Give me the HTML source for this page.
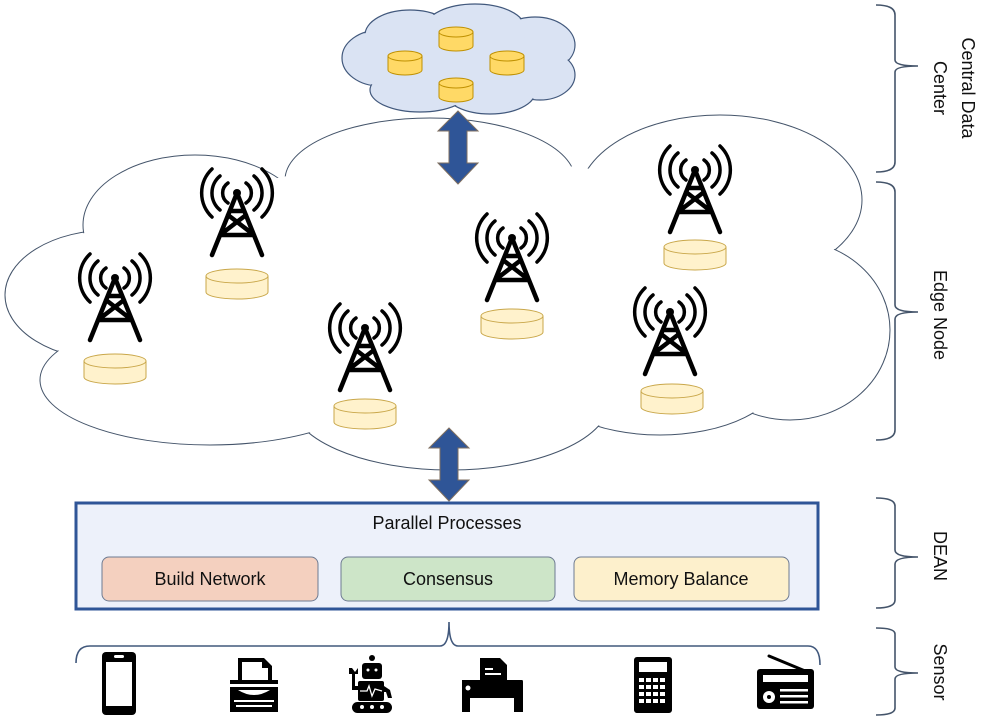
<!DOCTYPE html>
<html><head><meta charset="utf-8"><style>
html,body{margin:0;padding:0;background:#fff;}
svg{display:block;}
text{font-family:"Liberation Sans",sans-serif;}
</style></head><body>
<svg width="984" height="720" viewBox="0 0 984 720" xmlns="http://www.w3.org/2000/svg">
<defs>
<g id="tower" fill="none" stroke="#000" stroke-width="4.5" stroke-linecap="round">
  <circle cx="0" cy="0" r="4" fill="#000" stroke="none"/>
  <path d="M0 0 L-25 62 M0 0 L25 62 M-9 22 L17 42 M9 22 L-17 42 M-17 42 L17 42 M-7 18 L7 18"/>
  <path d="M-9 -10 A12 12 0 0 0 -9 10 M9 -10 A12 12 0 0 1 9 10" stroke-width="3.5"/>
  <path d="M-17 -17 A22 22 0 0 0 -17 17 M17 -17 A22 22 0 0 1 17 17" stroke-width="3.5"/>
  <path d="M-25 -24 A33 33 0 0 0 -25 24 M25 -24 A33 33 0 0 1 25 24" stroke-width="3.5"/>
</g>
<g id="cyl">
  <path d="M-31 -8 L-31 8 A31 7 0 0 0 31 8 L31 -8" fill="#fff2cc" stroke="#c9a74a" stroke-width="1"/>
  <ellipse cx="0" cy="-8" rx="31" ry="7" fill="#fff2cc" stroke="#c9a74a" stroke-width="1"/>
</g>
<g id="ycyl">
  <path d="M-17 -7 L-17 7 A17 5 0 0 0 17 7 L17 -7" fill="#ffd966" stroke="#bf9000" stroke-width="1"/>
  <ellipse cx="0" cy="-7" rx="17" ry="5" fill="#ffd966" stroke="#bf9000" stroke-width="1"/>
</g>
</defs>

<!-- big cloud -->
<g stroke="#44546a" stroke-width="1" fill="#fff">
  <ellipse cx="110" cy="295" rx="105" ry="65"/>
  <ellipse cx="195" cy="225" rx="112" ry="70"/>
  <ellipse cx="430" cy="180" rx="145" ry="62"/>
  <ellipse cx="720" cy="200" rx="142" ry="85"/>
  <ellipse cx="790" cy="330" rx="100" ry="90"/>
  <ellipse cx="660" cy="375" rx="120" ry="60"/>
  <ellipse cx="450" cy="400" rx="160" ry="70"/>
  <ellipse cx="210" cy="380" rx="170" ry="65"/>
</g>
<g fill="#fff">
  <ellipse cx="110" cy="295" rx="104" ry="64"/>
  <ellipse cx="195" cy="225" rx="111" ry="69"/>
  <ellipse cx="430" cy="180" rx="144" ry="61"/>
  <ellipse cx="720" cy="200" rx="141" ry="84"/>
  <ellipse cx="790" cy="330" rx="99" ry="89"/>
  <ellipse cx="660" cy="375" rx="119" ry="59"/>
  <ellipse cx="450" cy="400" rx="159" ry="69"/>
  <ellipse cx="210" cy="380" rx="169" ry="64"/>
  <ellipse cx="460" cy="290" rx="360" ry="130"/>
</g>

<!-- small cloud -->
<g stroke="#41587c" stroke-width="1.2" fill="#dae3f3">
  <ellipse cx="380" cy="58" rx="38" ry="28"/>
  <ellipse cx="410" cy="35" rx="45" ry="25"/>
  <ellipse cx="475" cy="28" rx="50" ry="24"/>
  <ellipse cx="535" cy="45" rx="40" ry="28"/>
  <ellipse cx="540" cy="75" rx="35" ry="25"/>
  <ellipse cx="490" cy="92" rx="45" ry="22"/>
  <ellipse cx="420" cy="90" rx="50" ry="22"/>
</g>
<g fill="#dae3f3">
  <ellipse cx="380" cy="58" rx="37" ry="27"/>
  <ellipse cx="410" cy="35" rx="44" ry="24"/>
  <ellipse cx="475" cy="28" rx="49" ry="23"/>
  <ellipse cx="535" cy="45" rx="39" ry="27"/>
  <ellipse cx="540" cy="75" rx="34" ry="24"/>
  <ellipse cx="490" cy="92" rx="44" ry="21"/>
  <ellipse cx="420" cy="90" rx="49" ry="21"/>
  <ellipse cx="460" cy="62" rx="90" ry="35"/>
</g>
<use href="#ycyl" x="456" y="39"/>
<use href="#ycyl" x="405" y="63"/>
<use href="#ycyl" x="507" y="63"/>
<use href="#ycyl" x="456" y="90"/>

<!-- arrows -->
<path d="M458 111 L478 131 L467 131 L467 163 L478 163 L458 184 L438 163 L449 163 L449 131 L438 131 Z" fill="#2f5597" stroke="#7f6f60" stroke-width="1"/>
<path d="M449 428 L469 448 L458 448 L458 480 L469 480 L449 501 L429 480 L440 480 L440 448 L429 448 Z" fill="#2f5597" stroke="#7f6f60" stroke-width="1"/>

<!-- towers and cylinders -->
<use href="#tower" x="237" y="193"/><use href="#cyl" x="237" y="284"/>
<use href="#tower" x="115" y="278"/><use href="#cyl" x="115" y="369"/>
<use href="#tower" x="365" y="328"/><use href="#cyl" x="365" y="414"/>
<use href="#tower" x="512" y="238"/><use href="#cyl" x="512" y="324"/>
<use href="#tower" x="695" y="170"/><use href="#cyl" x="695" y="255"/>
<use href="#tower" x="670" y="312"/><use href="#cyl" x="672" y="399"/>

<!-- DEAN box -->
<rect x="76" y="503" width="742" height="106" fill="#edf1fa" stroke="#2f5597" stroke-width="3"/>
<text x="447" y="529" font-size="18" text-anchor="middle" fill="#111">Parallel Processes</text>
<rect x="102" y="557" width="216" height="44" rx="7" fill="#f4d0bf" stroke="#6d7a91" stroke-width="1"/>
<rect x="341" y="557" width="214" height="44" rx="7" fill="#cde5c8" stroke="#6d7a91" stroke-width="1"/>
<rect x="574" y="557" width="215" height="44" rx="7" fill="#fdf0cc" stroke="#6d7a91" stroke-width="1"/>
<text x="210" y="585" font-size="18" text-anchor="middle" fill="#111">Build Network</text>
<text x="448" y="585" font-size="18" text-anchor="middle" fill="#111">Consensus</text>
<text x="681" y="585" font-size="18" text-anchor="middle" fill="#111">Memory Balance</text>

<!-- sensor brace -->
<path d="M76 663 Q76 646 90 646 L440 646 Q449 646 449 622 Q449 646 458 646 L808 646 Q820 646 820 665" fill="none" stroke="#41587c" stroke-width="1.6"/>

<!-- right brackets -->
<g fill="none" stroke="#44546a" stroke-width="1.6">
  <path d="M876 5 Q895 5 895 15 L895 60 Q895 66 918 66 Q895 66 895 72 L895 162 Q895 172 876 172"/>
  <path d="M876 182 Q895 182 895 192 L895 305 Q895 312 918 312 Q895 312 895 319 L895 430 Q895 440 876 440"/>
  <path d="M876 498 Q895 498 895 506 L895 550 Q895 557 918 557 Q895 557 895 564 L895 600 Q895 608 876 608"/>
  <path d="M876 628 Q895 628 895 634 L895 667 Q895 673 918 673 Q895 673 895 679 L895 708 Q895 715 876 715"/>
</g>
<g font-size="18" fill="#111">
  <text transform="translate(962,88) rotate(90)" text-anchor="middle">Central Data</text>
  <text transform="translate(934,88) rotate(90)" text-anchor="middle">Center</text>
  <text transform="translate(934,315) rotate(90)" text-anchor="middle">Edge Node</text>
  <text transform="translate(934,556) rotate(90)" text-anchor="middle">DEAN</text>
  <text transform="translate(934,672) rotate(90)" text-anchor="middle">Sensor</text>
</g>

<!-- sensor icons -->
<g fill="#000">
  <!-- phone -->
  <rect x="102" y="652" width="34" height="63" rx="4"/>
  <rect x="106" y="662" width="26" height="44" fill="#fff"/>
  <rect x="114" y="655" width="10" height="3" rx="1.5" fill="#fff"/>
  <!-- typewriter -->
  <path d="M238 658 L264 658 L272 666 L272 680 L268 680 L268 668 L262 668 L262 662 L242 662 L242 680 L238 680 Z"/>
  <rect x="230" y="680" width="48" height="4"/>
  <path d="M230 687 L278 687 L278 712 L230 712 Z M238 690 Q254 700 270 690 Z" fill-rule="evenodd"/>
  <g fill="#fff"><rect x="234" y="700" width="40" height="2"/><rect x="236" y="705" width="36" height="2"/></g>
  <!-- robot -->
  <circle cx="372" cy="658" r="3"/>
  <rect x="362" y="663" width="20" height="16" rx="3"/>
  <rect x="358" y="681" width="26" height="20" rx="2"/>
  <path d="M352 672 L352 690 L358 690 L358 686 L355 686 L355 672 Z M349 668 L349 674 L358 674 L358 668 L355 672 L352 668 Z"/>
  <path d="M384 686 L390 690 L392 698 L388 698 L386 692 L384 692 Z"/>
  <rect x="352" y="702" width="40" height="11" rx="5.5"/>
  <g fill="#fff"><circle cx="368" cy="670" r="1.5"/><circle cx="376" cy="670" r="1.5"/><circle cx="362" cy="707" r="2"/><circle cx="372" cy="707" r="2"/><circle cx="382" cy="707" r="2"/></g>
  <path d="M360 691 L367 691 L369 686 L372 696 L375 689 L382 691" stroke="#fff" stroke-width="1.3" fill="none"/>
  <!-- fax -->
  <path d="M480 658 L500 658 L507 665 L507 680 L480 680 Z"/>
  <path d="M462 680 L522 680 Q523 680 523 682 L523 712 L462 712 Z M470 698 L470 712 L514 712 L514 698 Z" fill-rule="evenodd"/>
  <g fill="#fff"><rect x="485" y="668" width="8" height="2"/><rect x="485" y="673" width="16" height="2"/><circle cx="468" cy="688" r="2.5"/></g>
  <!-- calculator -->
  <rect x="634" y="657" width="38" height="56" rx="3"/>
  <rect x="639" y="662" width="28" height="10" fill="#fff"/>
  <g fill="#fff">
    <rect x="639" y="678" width="5" height="4"/><rect x="646" y="678" width="5" height="4"/><rect x="653" y="678" width="5" height="4"/><rect x="660" y="678" width="5" height="4"/>
    <rect x="639" y="685" width="5" height="4"/><rect x="646" y="685" width="5" height="4"/><rect x="653" y="685" width="5" height="4"/><rect x="660" y="685" width="5" height="4"/>
    <rect x="639" y="692" width="5" height="4"/><rect x="646" y="692" width="5" height="4"/><rect x="653" y="692" width="5" height="4"/><rect x="660" y="692" width="5" height="4"/>
    <rect x="639" y="699" width="5" height="4"/><rect x="646" y="699" width="5" height="4"/><rect x="653" y="699" width="5" height="4"/><rect x="660" y="699" width="5" height="4"/>
  </g>
  <!-- radio -->
  <line x1="769" y1="656" x2="810" y2="673" stroke="#000" stroke-width="3" stroke-linecap="round"/>
  <rect x="757" y="669" width="57" height="40" rx="3"/>
  <rect x="763" y="675" width="45" height="7" fill="#fff"/>
  <circle cx="769" cy="697" r="6" fill="#fff"/><circle cx="769" cy="697" r="2"/>
  <g fill="#fff"><rect x="780" y="689" width="28" height="2.5"/><rect x="780" y="695" width="28" height="2.5"/><rect x="780" y="701" width="28" height="2.5"/></g>
</g>
</svg>
</body></html>
